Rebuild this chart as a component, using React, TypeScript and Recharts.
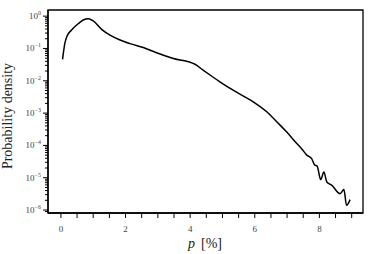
import React from 'react';
import { LineChart, Line, XAxis, YAxis, ReferenceArea } from 'recharts';

const pValues = [0.05, 0.12, 0.18, 0.33, 0.54, 0.69, 0.85, 1.0, 1.26, 1.52, 1.83, 2.14, 2.55, 2.96, 3.48, 4.15, 4.4, 4.67, 4.92, 5.33, 5.95, 6.37, 6.68, 6.99, 7.3, 7.45, 7.61, 7.76, 7.86, 7.93, 8.04, 8.14, 8.23, 8.38, 8.64, 8.76, 8.84, 8.95];
const density = [0.046, 0.141, 0.229, 0.372, 0.589, 0.759, 0.832, 0.708, 0.389, 0.257, 0.182, 0.141, 0.107, 0.0741, 0.049, 0.0324, 0.0214, 0.0138, 0.0093, 0.0051, 0.00224, 0.0011, 5.4e-4, 2.6e-4, 1.15e-4, 7.9e-5, 5.0e-5, 3.9e-5, 2.45e-5, 2.3e-5, 8.7e-6, 1.5e-5, 7.4e-6, 5.9e-6, 3.2e-6, 4.3e-6, 1.4e-6, 2.1e-6];

const xTicks = [0, 0.5, 1, 1.5, 2, 2.5, 3, 3.5, 4, 4.5, 5, 5.5, 6, 6.5, 7, 7.5, 8, 8.5, 9];
const xLabels = [0, 2, 4, 6, 8];
const yExponents = [-6, -5, -4, -3, -2, -1, 0];
const yMinorMult = [2, 3, 4, 5, 6, 7, 8, 9];

const X_DOMAIN: [number, number] = [-0.4, 9.35];
const Y_DOMAIN: [number, number] = [8.1e-7, 1.55];

const data = pValues.map((p, i) => ({ p, d: density[i] }));

const yTicks: number[] = [];
yExponents.forEach((e) => yTicks.push(Math.pow(10, e)));
[-7, -6, -5, -4, -3, -2, -1].forEach((e) =>
  yMinorMult.forEach((m) => {
    const v = m * Math.pow(10, e);
    if (v > Y_DOMAIN[0] && v < Y_DOMAIN[1]) yTicks.push(v);
  })
);

const FONT = '"Liberation Serif", "DejaVu Serif", serif';

const XTick = (props: any) => {
  const { x, y, payload } = props;
  const v = payload.value;
  const isLabel = xLabels.includes(v);
  return (
    <g>
      <line x1={x} x2={x} y1={y} y2={y + 5} stroke="#000" strokeWidth={1} />
      {isLabel && (
        <text x={x} y={y + 19} textAnchor="middle" fontSize={9} style={{ fontFamily: FONT }} fill="#444">
          {v}
        </text>
      )}
    </g>
  );
};

const YTick = (props: any) => {
  const { x, y, payload } = props;
  const v = payload.value;
  const lg = Math.log10(v);
  const isMajor = Math.abs(lg - Math.round(lg)) < 1e-6;
  return (
    <g>
      <line x1={x - (isMajor ? 5 : 3)} x2={x} y1={y} y2={y} stroke="#000" strokeWidth={1} />
      {isMajor && (
        <text x={x - 7} y={y + 3} textAnchor="end" fontSize={9} style={{ fontFamily: FONT }} fill="#444">
          10
          <tspan fontSize={6} dy={-4}>{Math.round(lg) === 0 ? '0' : '\u2212' + Math.abs(Math.round(lg))}</tspan>
        </text>
      )}
    </g>
  );
};

const YLabel = () => (
  <text
    x={7}
    y={116}
    transform="rotate(-90 7 116)"
    textAnchor="middle"
    dominantBaseline="central"
    fontSize={14}
    style={{ fontFamily: FONT }}
    fill="#222"
  >
    Probability density
  </text>
);

const XLabel = () => (
  <text x={205} y={248} textAnchor="middle" fontSize={14} style={{ fontFamily: FONT }} fill="#222">
    <tspan fontStyle="italic">p</tspan>
    <tspan dx={6}>[%]</tspan>
  </text>
);

export default function App() {
  return (
    <div style={{ position: 'absolute', left: 0, top: 0, background: '#fff' }}>
      <LineChart width={374} height={254} data={data} margin={{ top: 10, right: 11, bottom: 0, left: 0 }}>
        <XAxis
          dataKey="p"
          type="number"
          domain={X_DOMAIN}
          ticks={xTicks}
          interval={0}
          tick={<XTick />}
          tickLine={false}
          tickSize={0}
          tickMargin={0}
          height={41}
          axisLine={{ stroke: '#000', strokeWidth: 1.3 }}
          allowDataOverflow
          label={<XLabel />}
        />
        <YAxis
          dataKey="d"
          scale="log"
          domain={Y_DOMAIN}
          ticks={yTicks}
          interval={0}
          tick={<YTick />}
          tickLine={false}
          tickSize={0}
          tickMargin={0}
          width={48}
          axisLine={{ stroke: '#000', strokeWidth: 1.3 }}
          allowDataOverflow
          label={<YLabel />}
        />
        <ReferenceArea
          x1={X_DOMAIN[0]}
          x2={X_DOMAIN[1]}
          y1={Y_DOMAIN[0]}
          y2={Y_DOMAIN[1]}
          fill="none"
          fillOpacity={0}
          stroke="#000"
          strokeWidth={1.3}
          ifOverflow="visible"
        />
        <Line
          dataKey="d"
          type="monotone"
          stroke="#000"
          strokeWidth={1.5}
          dot={false}
          isAnimationActive={false}
        />
      </LineChart>
    </div>
  );
}
